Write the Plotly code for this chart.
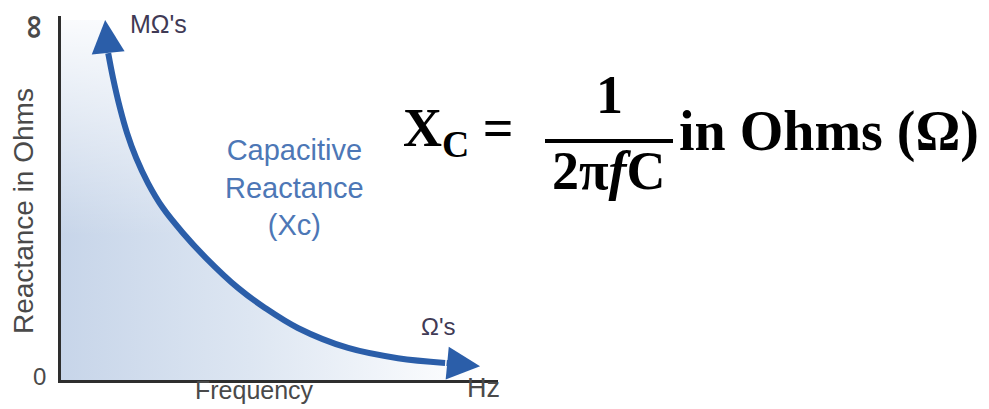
import plotly.graph_objects as go

# ---- data (arbitrary units, axis 0..100) ----
# first and last points are the arrow tips
frequency = [10.1, 10.8, 11.9, 13.5, 15.1, 17.2, 19.9, 23.3, 27.9, 33.2, 40.5, 46.7, 54.2, 65.7, 77.1, 87.9, 95.9]
reactance = [98.9, 89.8, 83.0, 74.7, 67.9, 61.0, 54.1, 47.3, 40.4, 33.5, 25.3, 19.8, 14.3, 8.8, 6.0, 4.7, 3.8]

x_range = [0, 100]
y_range = [0, 100]
y_tick_labels = ["0", "∞"]
x_title = "Frequency"
x_unit = "Hz"
y_title = "Reactance in Ohms"
top_label = "MΩ's"
bottom_label = "Ω's"
curve_label = "Capacitive<br>Reactance<br>(Xc)"

# ---- layout geometry ----
W, H = 989, 409
L, R, T, B = 53, 499, 8, 37
PW, PH = W - L - R, H - T - B
DY = -9  # correction for annotation box offset


def px(x):
    return (x - L) / PW


def py(y):
    return (H - B - y) / PH


BLUE = "#2b5ea9"
SANS = "Liberation Sans, Arial, sans-serif"
SERIF = "Liberation Serif, Times New Roman, serif"

fig = go.Figure()

# filled region under the curve (polygon built from data)
fill_x = [x_range[0], x_range[0]] + frequency + [frequency[-1]]
fill_y = [y_range[0], reactance[0]] + reactance + [y_range[0]]

fig.add_trace(go.Scatter(
    x=fill_x, y=fill_y, mode="none", fill="toself", hoverinfo="skip",
    fillgradient=dict(type="horizontal", colorscale=[
        [0, "rgb(199,213,233)"], [0.45, "rgb(221,230,242)"], [1, "rgb(255,255,255)"]]),
    showlegend=False))
fig.add_trace(go.Scatter(
    x=fill_x, y=fill_y, mode="none", fill="toself", hoverinfo="skip",
    fillgradient=dict(type="vertical", colorscale=[
        [0, "rgba(255,255,255,0)"], [0.4, "rgba(255,255,255,0)"], [1, "rgba(255,255,255,0.9)"]]),
    showlegend=False))

# curve
fig.add_trace(go.Scatter(
    x=frequency[1:-1], y=reactance[1:-1], mode="lines",
    line=dict(color=BLUE, width=6, shape="spline", smoothing=1.0),
    showlegend=False, hoverinfo="skip"))

annotations = []
# arrow heads
for (tx, ty, sx, sy) in [(frequency[0], reactance[0], frequency[1], reactance[1]),
                         (frequency[-1], reactance[-1], frequency[-2], reactance[-2])]:
    annotations.append(dict(x=tx, y=ty, ax=sx, ay=sy, xref="x", yref="y", axref="x", ayref="y",
                            text="", showarrow=True, arrowhead=2, arrowsize=1.1, arrowwidth=6,
                            arrowcolor=BLUE, standoff=0, startstandoff=0))


def txt(text, x, y, size, color, family=SANS, xanchor="center", yanchor="middle", angle=0):
    if angle == -90:
        x = x + DY
    y = y + DY
    annotations.append(dict(text=text, x=px(x), y=py(y), xref="paper", yref="paper",
                            xanchor=xanchor, yanchor=yanchor, showarrow=False, textangle=angle,
                            font=dict(size=size, color=color, family=family)))


GRAY = "#4a4a4a"
txt(y_tick_labels[0], 31, 377, 24, GRAY)
txt("<b>" + y_tick_labels[1] + "</b>", 33, 28, 34, GRAY, angle=-90)
txt(y_title, 24, 212, 28, GRAY, angle=-90)
txt(x_title, 246, 391, 25, GRAY)
txt(x_unit, 475, 389, 27, GRAY)
txt(top_label, 120, 25, 25, "#3f3a55", xanchor="left")
txt(bottom_label, 430, 327, 24, "#3f3a55")
txt(curve_label, 286, 188, 29, "#4d77b6")

# formula
txt("<b>X<sub>C</sub> =</b>", 393, 132, 54, "#000", family=SERIF, xanchor="left")
txt("<b>1</b>", 601, 96, 54, "#000", family=SERIF)
txt("<b>2π<i>f</i>C</b>", 601, 172, 54, "#000", family=SERIF)
txt("<b>in Ohms (Ω)</b>", 669, 132, 56, "#000", family=SERIF, xanchor="left")

fig.add_shape(type="line", xref="paper", yref="paper", x0=px(537), x1=px(665), y0=py(133), y1=py(133),
              line=dict(color="#000", width=4))

fig.update_layout(
    width=W, height=H, margin=dict(l=L, r=R, t=T, b=B),
    paper_bgcolor="white", plot_bgcolor="white",
    annotations=annotations,
    xaxis=dict(range=x_range, showgrid=False, zeroline=False, showticklabels=False, ticks="",
               showline=True, linecolor="#2e2e2e", linewidth=3),
    yaxis=dict(range=y_range, showgrid=False, zeroline=False, showticklabels=False, ticks="",
               showline=True, linecolor="#2e2e2e", linewidth=3),
)

fig.write_html("out.html")
